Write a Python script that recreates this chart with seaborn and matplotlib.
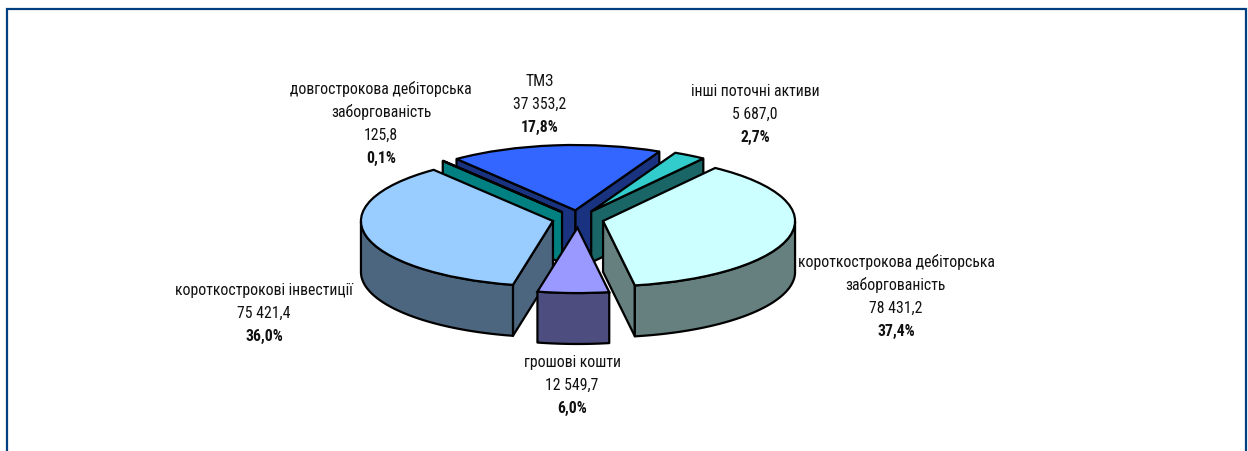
import numpy as np
import pandas as pd
import matplotlib
matplotlib.use("Agg")
import matplotlib.pyplot as plt
from matplotlib.colors import to_rgb
from matplotlib.patches import Rectangle
import seaborn as sns

# clockwise from the start angle
categories = ["ТМЗ", "інші поточні активи", "короткострокова дебіторська\nзаборгованість",
              "грошові кошти", "короткострокові інвестиції",
              "довгострокова дебіторська\nзаборгованість"]
values = [37353.2, 5687.0, 78431.2, 12549.7, 75421.4, 125.8]
top_colors = ["#3366FF", "#33CCCC", "#CCFFFF", "#9999FF", "#99CCFF", "#00FFFF"]

# label centre x and first line y, in pixels
label_x = [540, 755, 896, 572, 264, 381]
label_y = [81, 91, 262, 362, 290, 89]
draw_order = [0, 1, 5, 4, 2, 3]

W, H = 1248, 452
cx, cy = 578, 220     # pie centre in pixels
rx, ry = 192, 65.3    # pixels per radius unit
wall = 0.78           # wall height in radius units
line_h = 23.2

sns.set_theme(style="white")
plt.rcParams["font.family"] = ["Roboto Condensed", "Liberation Sans", "DejaVu Sans"]

df = pd.DataFrame({"name": categories, "value": values})
df["share"] = df["value"] / df["value"].sum()

fig = plt.figure(figsize=(W / 100, H / 100), dpi=100, facecolor="white")
ax = fig.add_axes([0, 0, 1, 1])

wedges, _ = ax.pie(df["value"], colors=sns.color_palette(top_colors), startangle=128.2,
                   counterclock=False, explode=[0.134] * len(df), radius=1,
                   wedgeprops=dict(edgecolor="black", linewidth=1.6))
ax.set_aspect("auto")
ax.set_xlim(-cx / rx, (W - cx) / rx)
ax.set_ylim(-(H - cy) / ry, cy / ry)
ax.set_axis_off()


def point(w, deg):
    t = np.radians(deg)
    return w.center[0] + np.cos(t), w.center[1] + np.sin(t)


def wall_poly(xs, ys, color, z):
    xs, ys = np.asarray(xs), np.asarray(ys)
    ax.fill(np.r_[xs, xs[::-1]], np.r_[ys, ys[::-1] - wall], facecolor=color,
            edgecolor="black", linewidth=1.6, zorder=z, joinstyle="round")


for z, i in enumerate(draw_order):
    w = wedges[i]
    side = np.array(to_rgb(top_colors[i])) * 0.5
    base = 10 * (z + 1)
    t1, t2 = w.theta1, w.theta2
    # radial cut walls, only those facing the viewer
    for deg, normal in [(t1, t1 - 90), (t2, t2 + 90)]:
        if np.sin(np.radians(normal)) < 0:
            px, py = point(w, deg)
            wall_poly([w.center[0], px], [w.center[1], py], side, base)
    # outer wall, front half only
    arc = np.linspace(t1, t2, 200)
    arc = arc[np.sin(np.radians(arc)) <= 0]
    if len(arc) > 1:
        px, py = point(w, arc)
        wall_poly(px, py, side, base + 1)
    w.set_zorder(base + 2)

for i, row in df.iterrows():
    lines = row["name"].split("\n")
    lines.append(f"{row['value']:,.1f}".replace(",", " ").replace(".", ","))
    y = label_y[i]
    for text in lines:
        fig.text(label_x[i] / W, 1 - y / H, text, ha="center", va="center",
                 fontsize=11.3, color="#111111")
        y += line_h
    fig.text(label_x[i] / W, 1 - y / H, f"{row['share'] * 100:.1f}%".replace(".", ","),
             ha="center", va="center", fontsize=11.3, fontweight="bold", color="#111111")

fig.add_artist(Rectangle((7 / W, -0.05), (1246 - 7) / W, 1 - 10 / H + 0.05, transform=fig.transFigure,
                         fill=False, edgecolor="#003F7F", linewidth=1.6))

fig.savefig("out.png", dpi=100)
